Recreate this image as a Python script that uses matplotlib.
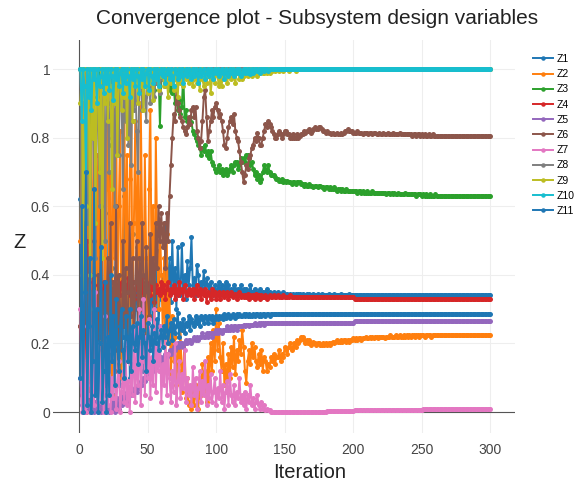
import matplotlib
matplotlib.use("Agg")
import matplotlib.pyplot as plt
import numpy as np

# iterations 1..300, values in percent (0-100)
ITER = np.arange(1, 301)

NAMES = ["Z1", "Z2", "Z3", "Z4", "Z5", "Z6", "Z7", "Z8", "Z9", "Z10", "Z11"]

Z1 = """
62 5 48 12 0 55 20 3 40 60 8 30 2 45 15 50 5 25 58 10
35 78 12 42 5 30 55 18 40 8 50 22 63 15 35 45 10 38 52 20
30 48 15 40 25 55 12 35 45 20 38 28 50 18 42 30 47 25 36 33
40 28 55 30 38 45 32 50 35 42 30 48 38 34 49 36 40 33 44 37
42 51 36 39 34 43 40 35 38 36 41 34 39 37 35 38 36 34 37 35
36 38 34 37 35 36 38 35 37 34 36 35 37 36 34 36 35 37 35 36
35 36 34 35 37 35 34 36 35 34 35 36 34 35 34 35 36 34 35 34
34.5 35 34 34.5 35 34 34.5 34 35 34.5 34 34.5 34 34.5 34 34.5 34 34.5 34 34.5
34.5 34 34.5 34 34 34.5 34 34.5 34 34 34.5 34 34 34.5 34 34 34.5 34 34 34
34 34.5 34 34 34 34.5 34 34 34 34 34.5 34 34 34 34 34 34.5 34 34 34
34 34 34 34 34 34 34 34 34 34 34 34 34 34 34 34 34 34 34 34
34 34 34 34 34 34 34 34 34 34 34 34 34 34 34 34 34 34 34 34
34 34 34 34 34 34 34 34 34 34 34 34 34 34 34 34 34 34 34 34
34 34 34 34 34 34 34 34 34 34 34 34 34 34 34 34 34 34 34 34
34 34 34 34 34 34 34 34 34 34 34 34 34 34 34 34 34 34 34 34
"""

Z2 = """
50 95 10 70 0 85 30 100 5 60 90 20 75 40 100 8 55 80 15 65
95 30 70 5 88 45 100 20 60 82 10 50 92 35 75 15 68 98 25 55
85 40 70 20 90 55 30 75 45 10 65 88 35 60 20 80 50 30 55 40
25 45 15 52 20 35 10 28 15 22 8 18 12 25 6 14 20 4 10 2
3 1 6 2 8 4 1 10 5 14 7 12 3 16 9 20 12 24 15 30
18 26 16 12 20 8 14 6 17 10 19 13 22 11 18 15 21 17 24 19
12 8.5 15 18 14 20 16 19 15 13 17 14 18 12 16 15 12 14 13 16
15 17 14 16 16 18 15 17 16 19 18 17 19 20 18 19 20 19 21 20
21 22 22 21 20 21 20 21 19.5 20 20.5 20 19.5 20 20 19.5 19.5 20 19.5 20
19.5 20 19.5 20 20.5 20 20.5 21 20.5 20.5 21 20.5 21 21 20.5 21 20.5 21 21 21.5
21 21.5 21 21.5 21.5 21 21.5 21.5 22 21.5 21.5 22 21.5 22 21.5 22 22 21.5 22 22
22 22 21.5 22 22 22 22.5 22 22 22 22.5 22 22 22.5 22 22 22.5 22 22.5 22
22.5 22 22.5 22.5 22 22.5 22.5 22 22.5 22.5 22.5 22 22.5 22.5 22.5 22.5 22 22.5 22.5 22.5
22.5 22.5 22.5 22.5 22.5 22.5 22.5 22.5 22.5 22.5 22.5 22.5 22.5 22.5 22.5 22.5 22.5 22.5 22.5 22.5
22.5 22.5 22.5 22.5 22.5 22.5 22.5 22.5 22.5 22.5 22.5 22.5 22.5 22.5 22.5 22.5 22.5 22.5 22.5 22.5
"""

Z3 = """
100 95 100 90 100 98 100 85 100 97 100 99 92 100 98 100 95 100 100 97
100 98 96 100 99 100 94 100 97 100 99 100 96 100 98 100 95 99 100 98
100 97 100 99 96 100 98 100 95 99 100 97 100 98 94 100 96 99 83.5 97
100 98 97 99 96 94 97 93 95 90 92 88 91 87 89 99 86 88 85 84
86 84.5 82 81 80 79 78 77 75 77 76 78 75 76 74 76 73 72 71 70
71 72 70 71 69 70 71 69 70 71 72 70 72 73 73 71 72 74 73 74
73 75 75 74 72 73 71 69 70 68 69 67 68 70 72 71 70 72 70 69
69 69 68.5 68 68 67.5 67.5 68 67 67.5 67 67.5 67 67 66.5 67 67 66.5 67 67
67 66.5 66.5 66 66.5 66 66 66.5 66 66 65.5 66 66 65.5 66 66 65.5 65.5 65 65.5
65.5 65 65.5 65 65 65.5 65 64.5 65 65 64.5 65 64.5 64.5 65 64.5 64.5 64.5 64.5 64.5
64.5 64.5 64 64.5 64.5 64 64.5 64 64 64.5 64 64 64 64.5 64 64 64 64 64 64
64 64 64 63.5 64 64 63.5 64 63.5 64 63.5 63.5 64 63.5 63.5 63.5 63.5 64 63.5 63.5
63.5 63.5 63.5 63.5 63.5 63 63.5 63.5 63.5 63 63.5 63 63.5 63 63 63.5 63 63 63 63.5
63 63 63 63 63 63 63 63 63 63 63 63 63 63 63 63 63 63 63 63
63 63 63 63 63 63 63 63 63 63 63 63 63 63 63 63 63 63 63 63
"""

Z4 = """
25 5 45 30 12 50 38 2 28 40 15 35 22 37 30 36 33 38 34 36
37 34 38 35 36 33 39 35 37 34 38 36 32 37 35 39 34 36 38 33
36 38 34 37 35 39 33 36 38 35 37 34 36 38 32 37 35 36 34 38
35 37 33 36 38 34 36 35 37 33 36 34 38 35 36 33 37 35 34 36
35 34 36 33 35 37 34 36 33 35 34 36 32 35 34 33 36 34 35 33
34 35 33 34.5 35 33.5 34 35 33 34 35 33.5 34 34.5 33 34 35 33.5 34 33.5
34 33.5 34.5 33 34 33.5 34 33 34.5 33.5 34 33 34 33.5 33.5 34 33 33.5 34 33.5
33.5 34 33.5 33.5 34 33.5 33.5 33.5 34 33.5 33.5 33.5 33.5 34 33.5 33.5 33.5 33.5 33.5 33.5
33.5 33.5 33.5 33.5 33.5 33.5 33.5 33.5 33.5 33.5 33.5 33.5 33.5 33.5 33.5 33.5 33.5 33.5 33.5 33.5
33.5 33.5 33.5 33.5 33.5 33.5 33.5 33.5 33.5 33.5 33.5 33.5 33.5 33.5 33.5 33.5 33.5 33.5 33.5 33.5
33 33 33 33 33 33 33 33 33 33 33 33 33 33 33 33 33 33 33 33
33 33 33 33 33 33 33 33 33 33 33 33 33 33 33 33 33 33 33 33
33 33 33 33 33 33 33 33 33 33 33 33 33 33 33 33 33 33 33 33
33 33 33 33 33 33 33 33 33 33 33 33 33 33 33 33 33 33 33 33
33 33 33 33 33 33 33 33 33 33 33 33 33 33 33 33 33 33 33 33
"""

Z5 = """
10 2 30 0 5 15 1 0 8 2 0 3 1 0 2 0 1 3 0 2
1 0 2 1 3 0 2 4 1 3 2 5 3 4 6 3 5 7 5 6
7 6 8 7 9 8 10 9 11 10 12 11 13 12 14 13 15 14 15 16
15 16 17 16 17 18 17 18 19 18 19 20 19 20 20 19 20 21 20 21
21 20 21 22 21 22 21 22 22 23 22 22 23 22 23 23 22 23 23 24
23 24 24 23 24 24 24 25 24 24 25 24 25 25 24 25 25 25 25 25.5
25 25.5 25.5 25 25.5 25.5 25.5 26 25.5 25.5 26 25.5 26 26 25.5 26 26 26 26 26
26 26 26 26 26 26 26 26 26 26 26 26 26 26 26 26 26 26 26 26
26 26 26 26 26 26 26 26 26 26 26 26 26 26 26 26 26 26 26 26
26 26 26 26 26 26 26 26 26 26 26 26 26 26 26 26 26 26 26 26
26.5 26.5 26.5 26.5 26.5 26.5 26.5 26.5 26.5 26.5 26.5 26.5 26.5 26.5 26.5 26.5 26.5 26.5 26.5 26.5
26.5 26.5 26.5 26.5 26.5 26.5 26.5 26.5 26.5 26.5 26.5 26.5 26.5 26.5 26.5 26.5 26.5 26.5 26.5 26.5
26.5 26.5 26.5 26.5 26.5 26.5 26.5 26.5 26.5 26.5 26.5 26.5 26.5 26.5 26.5 26.5 26.5 26.5 26.5 26.5
26.5 26.5 26.5 26.5 26.5 26.5 26.5 26.5 26.5 26.5 26.5 26.5 26.5 26.5 26.5 26.5 26.5 26.5 26.5 26.5
26.5 26.5 26.5 26.5 26.5 26.5 26.5 26.5 26.5 26.5 26.5 26.5 26.5 26.5 26.5 26.5 26.5 26.5 26.5 26.5
"""

Z6 = """
25 40 10 55 30 15 45 20 35 5 50 28 12 40 22 60 18 35 8 30
45 20 55 15 38 25 60 12 40 30 18 50 25 42 15 35 55 28 45 20
38 50 25 45 30 55 40 20 48 35 28 52 38 45 30 55 42 60 50 58
48 55 42 58 50 63 72 80 87 85 94 90 88 86 85 83 82 81 83 86
84 88 89 86 89 82 80 77 79 85 92 94 86 79 82 85 88 86 89 90
88 86 87 85 82 78 77 80 83 85 86 84 87 82 80 79 76 73 70 67
69 72 71 74 75 77 78 80 79 81.5 80 78 78 80 82 84 83 85 84 83
82 81 80 80 81 82 81 80 81 82 82 81 81 80 80 81 80 80 81 80
80.5 81 81 82 81.5 82 82 82.5 81.5 82 82.5 83 82.5 82.5 83 83 82.5 82 82 81.5
82 81.5 81.5 81 81.5 81 81 81.5 81 81 81.5 81 81.5 82 82 82.5 82 82 82 81.5
81.5 81.5 82 81.5 81.5 81.5 81 81.5 81.5 81.5 81 81.5 81.5 81 81.5 81.5 81 81 81.5 81
81 81.5 81 81 81.5 81 81 81 81.5 81 81 81 81 81.5 81 81 81 81 81 81
81 81 80.5 81 81 80.5 81 81 80.5 81 80.5 81 80.5 80.5 81 80.5 80.5 81 80.5 80.5
80.5 80.5 80.5 80.5 80.5 80.5 80.5 80.5 80.5 80.5 80.5 80.5 80.5 80.5 80.5 80.5 80.5 80.5 80.5 80.5
80.5 80.5 80.5 80.5 80.5 80.5 80.5 80.5 80.5 80.5 80.5 80.5 80.5 80.5 80.5 80.5 80.5 80.5 80.5 80.5
"""

Z7 = """
30 0 45 10 0 25 5 40 0 15 2 35 8 0 20 3 12 0 28 5
2 18 0 10 4 22 1 8 15 0 6 12 3 20 2 9 0 14 5 25
3 18 8 30 2 15 33 5 22 10 27 4 16 8 30 6 20 12 25 3
14 8 22 5 17 10 3 12 6 20 2 9 15 4 11 7 18 3 10 5
8 2 13 5 10 1 7 12 3 9 5 15 2 8 4 11 3 6 10 2
7 4 12 3 8 1 6 9 2 11 5 3 8 2 6 4 10 3 5 2
6 1 5 3 8 2 4 1 3 5 2 1 3 1 2 0.5 1 0.5 0.5 0
0 0 0 0 0 0 0 0 0 0 0 0 0 0 0 0 0 0 0 0
0 0 0 0 0 0 0 0 0 0 0 0 0 0 0 0 0 0 0 0
0.3 0.3 0.3 0.3 0.3 0.3 0.3 0.3 0.3 0.3 0.3 0.3 0.3 0.3 0.3 0.3 0.3 0.3 0.3 0.3
0.5 0.5 0.5 0.5 0.5 0.5 0.5 0.5 0.5 0.5 0.5 0.5 0.5 0.5 0.5 0.5 0.5 0.5 0.5 0.5
0.5 0.5 0.5 0.5 0.5 0.5 0.5 0.5 0.5 0.5 0.7 0.7 0.7 0.7 0.7 0.7 0.7 0.7 0.7 0.7
0.7 0.7 0.7 0.7 0.7 0.7 0.7 0.7 0.7 0.7 0.8 0.8 0.8 0.8 0.8 0.8 0.8 0.8 0.8 0.8
0.8 0.8 0.8 0.8 0.8 0.8 0.8 0.8 0.8 0.8 1 1 1 1 1 1 1 1 1 1
1 1 1 1 1 1 1 1 1 1 1 1 1 1 1 1 1 1 1 1
"""

Z8 = """
100 40 90 70 100 55 95 30 80 100 65 45 100 85 60 100 75 95 50 100
90 70 100 80 95 60 100 88 75 100 92 65 100 85 100 78 95 72 100 88
100 82 70 95 100 88 100 92 85 100 95 90 100 97 92 100 96 100 93 100
97 100 95 100 98 100 96 100 99 100 97 100 100 98 100 100 99 100 100 99
100 100 100 100 100 100 100 100 100 100 100 100 100 100 100 100 100 100 100 100
100 100 100 100 100 100 100 100 100 100 100 100 100 100 100 100 100 100 100 100
100 100 100 100 100 100 100 100 100 100 100 100 100 100 100 100 100 100 100 100
100 100 100 100 100 100 100 100 100 100 100 100 100 100 100 100 100 100 100 100
100 100 100 100 100 100 100 100 100 100 100 100 100 100 100 100 100 100 100 100
100 100 100 100 100 100 100 100 100 100 100 100 100 100 100 100 100 100 100 100
100 100 100 100 100 100 100 100 100 100 100 100 100 100 100 100 100 100 100 100
100 100 100 100 100 100 100 100 100 100 100 100 100 100 100 100 100 100 100 100
100 100 100 100 100 100 100 100 100 100 100 100 100 100 100 100 100 100 100 100
100 100 100 100 100 100 100 100 100 100 100 100 100 100 100 100 100 100 100 100
100 100 100 100 100 100 100 100 100 100 100 100 100 100 100 100 100 100 100 100
"""

Z9 = """
90 100 35 100 60 95 100 40 100 80 100 55 100 95 70 100 45 100 90 100
85 100 95 65 100 90 100 75 100 98 88 100 92 100 80 100 96 100 85 100
97 100 90 100 95 100 88 100 98 93 100 96 100 91 100 97 100 94 100 98
100 95 100 97 92 100 96 99 94 100 97 92 100 96 98 95 100 97 99 96
100 98 95 97 100 96 98 94 100 97 95 99 96 98 100 93 97 99 96 100
98 95 97 95 99 97 100 96 98 99 97 100 98 96 99 100 97 99 97 98
99 100 98 99 100 98 99 100 99 98 100 99 100 99 99 100 99 100 99 100
99.5 100 99.5 100 100 99.5 100 100 99.5 100 100 100 99.5 100 100 100 100 99.5 100 100
100 100 100 100 100 100 100 100 100 100 100 100 100 100 100 100 100 100 100 100
100 100 100 100 100 100 100 100 100 100 100 100 100 100 100 100 100 100 100 100
100 100 100 100 100 100 100 100 100 100 100 100 100 100 100 100 100 100 100 100
100 100 100 100 100 100 100 100 100 100 100 100 100 100 100 100 100 100 100 100
100 100 100 100 100 100 100 100 100 100 100 100 100 100 100 100 100 100 100 100
100 100 100 100 100 100 100 100 100 100 100 100 100 100 100 100 100 100 100 100
100 100 100 100 100 100 100 100 100 100 100 100 100 100 100 100 100 100 100 100
"""

Z10 = """
100 85 100 95 70 100 92 100 88 100 97 100 90 100 95 98 100 93 100 96
100 94 100 98 91 100 97 100 95 99 100 93 100 96 100 98 92 100 97 100
95 100 98 93 100 97 100 95 99 100 94 100 98 96 100 97 100 95 99 100
98 100 96 99 100 97 100 98 95 100 99 97 100 98 100 96 99 100 98 100
99 97 100 98 100 99 96 100 98 99 100 97 99 100 98 100 99 97 100 99
100 98 99 100 99 97 100 99 98 100 99 100 98 99 100 99 100 98 99 100
99 100 99 100 98.5 100 99 100 100 99.5 100 99 100 100 99.5 100 100 99.5 100 100
100 100 100 100 100 100 100 100 100 100 100 100 100 100 100 100 100 100 100 100
100 100 100 100 100 100 100 100 100 100 100 100 100 100 100 100 100 100 100 100
100 100 100 100 100 100 100 100 100 100 100 100 100 100 100 100 100 100 100 100
100 100 100 100 100 100 100 100 100 100 100 100 100 100 100 100 100 100 100 100
100 100 100 100 100 100 100 100 100 100 100 100 100 100 100 100 100 100 100 100
100 100 100 100 100 100 100 100 100 100 100 100 100 100 100 100 100 100 100 100
100 100 100 100 100 100 100 100 100 100 100 100 100 100 100 100 100 100 100 100
100 100 100 100 100 100 100 100 100 100 100 100 100 100 100 100 100 100 100 100
"""

Z11 = """
10 60 0 35 70 2 25 45 0 15 65 5 30 0 20 48 3 12 38 0
22 5 40 15 28 8 33 20 12 25 30 18 10 28 22 15 30 12 25 20
18 26 14 22 28 16 24 20 12 26 22 18 25 15 23 20 27 18 22 24
19 25 22 28 20 24 26 21 27 23 25 29 22 26 24 27 23 26 25 28
24 27 26 25 28 26 27 25 28 27 26 28 27 26 28 27 28 26 27 28
27 28 27.5 28 27 28.5 27.5 28 28.5 27.5 28 28.5 28 27.5 28.5 28 28.5 28 28 28.5
28 28.5 28 28.5 28 28 28.5 28 28.5 28.5 28 28.5 28 28.5 28.5 28 28.5 28.5 28 28.5
28.5 28.5 28.5 28.5 28.5 28.5 28.5 28.5 28.5 28.5 28.5 28.5 28.5 28.5 28.5 28.5 28.5 28.5 28.5 28.5
28.5 28.5 28.5 28.5 28.5 28.5 28.5 28.5 28.5 28.5 28.5 28.5 28.5 28.5 28.5 28.5 28.5 28.5 28.5 28.5
28.5 28.5 28.5 28.5 28.5 28.5 28.5 28.5 28.5 28.5 28.5 28.5 28.5 28.5 28.5 28.5 28.5 28.5 28.5 28.5
28.5 28.5 28.5 28.5 28.5 28.5 28.5 28.5 28.5 28.5 28.5 28.5 28.5 28.5 28.5 28.5 28.5 28.5 28.5 28.5
28.5 28.5 28.5 28.5 28.5 28.5 28.5 28.5 28.5 28.5 28.5 28.5 28.5 28.5 28.5 28.5 28.5 28.5 28.5 28.5
28.5 28.5 28.5 28.5 28.5 28.5 28.5 28.5 28.5 28.5 28.5 28.5 28.5 28.5 28.5 28.5 28.5 28.5 28.5 28.5
28.5 28.5 28.5 28.5 28.5 28.5 28.5 28.5 28.5 28.5 28.5 28.5 28.5 28.5 28.5 28.5 28.5 28.5 28.5 28.5
28.5 28.5 28.5 28.5 28.5 28.5 28.5 28.5 28.5 28.5 28.5 28.5 28.5 28.5 28.5 28.5 28.5 28.5 28.5 28.5
"""

SERIES = [Z1, Z2, Z3, Z4, Z5, Z6, Z7, Z8, Z9, Z10, Z11]

COLORS = ["#1f77b4", "#ff7f0e", "#2ca02c", "#d62728", "#9467bd", "#8c564b",
          "#e377c2", "#7f7f7f", "#bcbd22", "#17becf", "#1f77b4"]

W, H = 582, 491
plt.rcParams["font.family"] = ["Liberation Sans", "DejaVu Sans"]

fig = plt.figure(figsize=(W / 100, H / 100), dpi=100)
fig.patch.set_facecolor("white")

# plot area in pixels: left 53, right 515, top 40, bottom 433
L, R, T, B = 53, 515, 40, 433
ax = fig.add_axes([L / W, 1 - B / H, (R - L) / W, (B - T) / H])
ax.set_xlim(-19, 318)
ax.set_ylim(-0.061, 1.085)

for name, s, c in zip(NAMES, SERIES, COLORS):
    y = np.array(s.split(), dtype=float) / 100
    assert len(y) == len(ITER), (name, len(y))
    ax.plot(ITER, y, color=c, lw=1.4, marker="o", ms=3.6, mew=0,
            label=name, zorder=3)

# grid + zerolines
ax.set_xticks([0, 50, 100, 150, 200, 250, 300])
ax.set_yticks([0, 0.2, 0.4, 0.6, 0.8, 1])
ax.set_yticklabels(["0", "0.2", "0.4", "0.6", "0.8", "1"])
ax.grid(True, color="#eeeeee", lw=0.8, zorder=0)
ax.set_axisbelow(True)
ax.axhline(0, color="#555555", lw=0.8, zorder=1)
ax.axvline(0, color="#555555", lw=0.8, zorder=1)
for sp in ax.spines.values():
    sp.set_visible(False)
ax.tick_params(length=0, labelsize=10, labelcolor="#444444")
ax.tick_params(axis="y", pad=2)
ax.tick_params(axis="x", pad=7)

fig.text(317 / W, 1 - 18 / H, "Convergence plot - Subsystem design variables",
         ha="center", va="center", fontsize=15, color="#222222")
fig.text(310 / W, 1 - 473 / H, "Iteration", ha="center", va="center",
         fontsize=14.5, color="#222222")
fig.text(20 / W, 1 - 242 / H, "Z", ha="center", va="center",
         fontsize=14.5, color="#222222")

fig.legend(loc="upper left", bbox_to_anchor=(533 / W, 1 - 54 / H),
           frameon=False, fontsize=7.5, handlelength=1.9, handletextpad=0.4,
           labelspacing=0.5, borderaxespad=0, borderpad=0,
           markerscale=0.9)

fig.savefig("out.png", dpi=100, facecolor="white")
